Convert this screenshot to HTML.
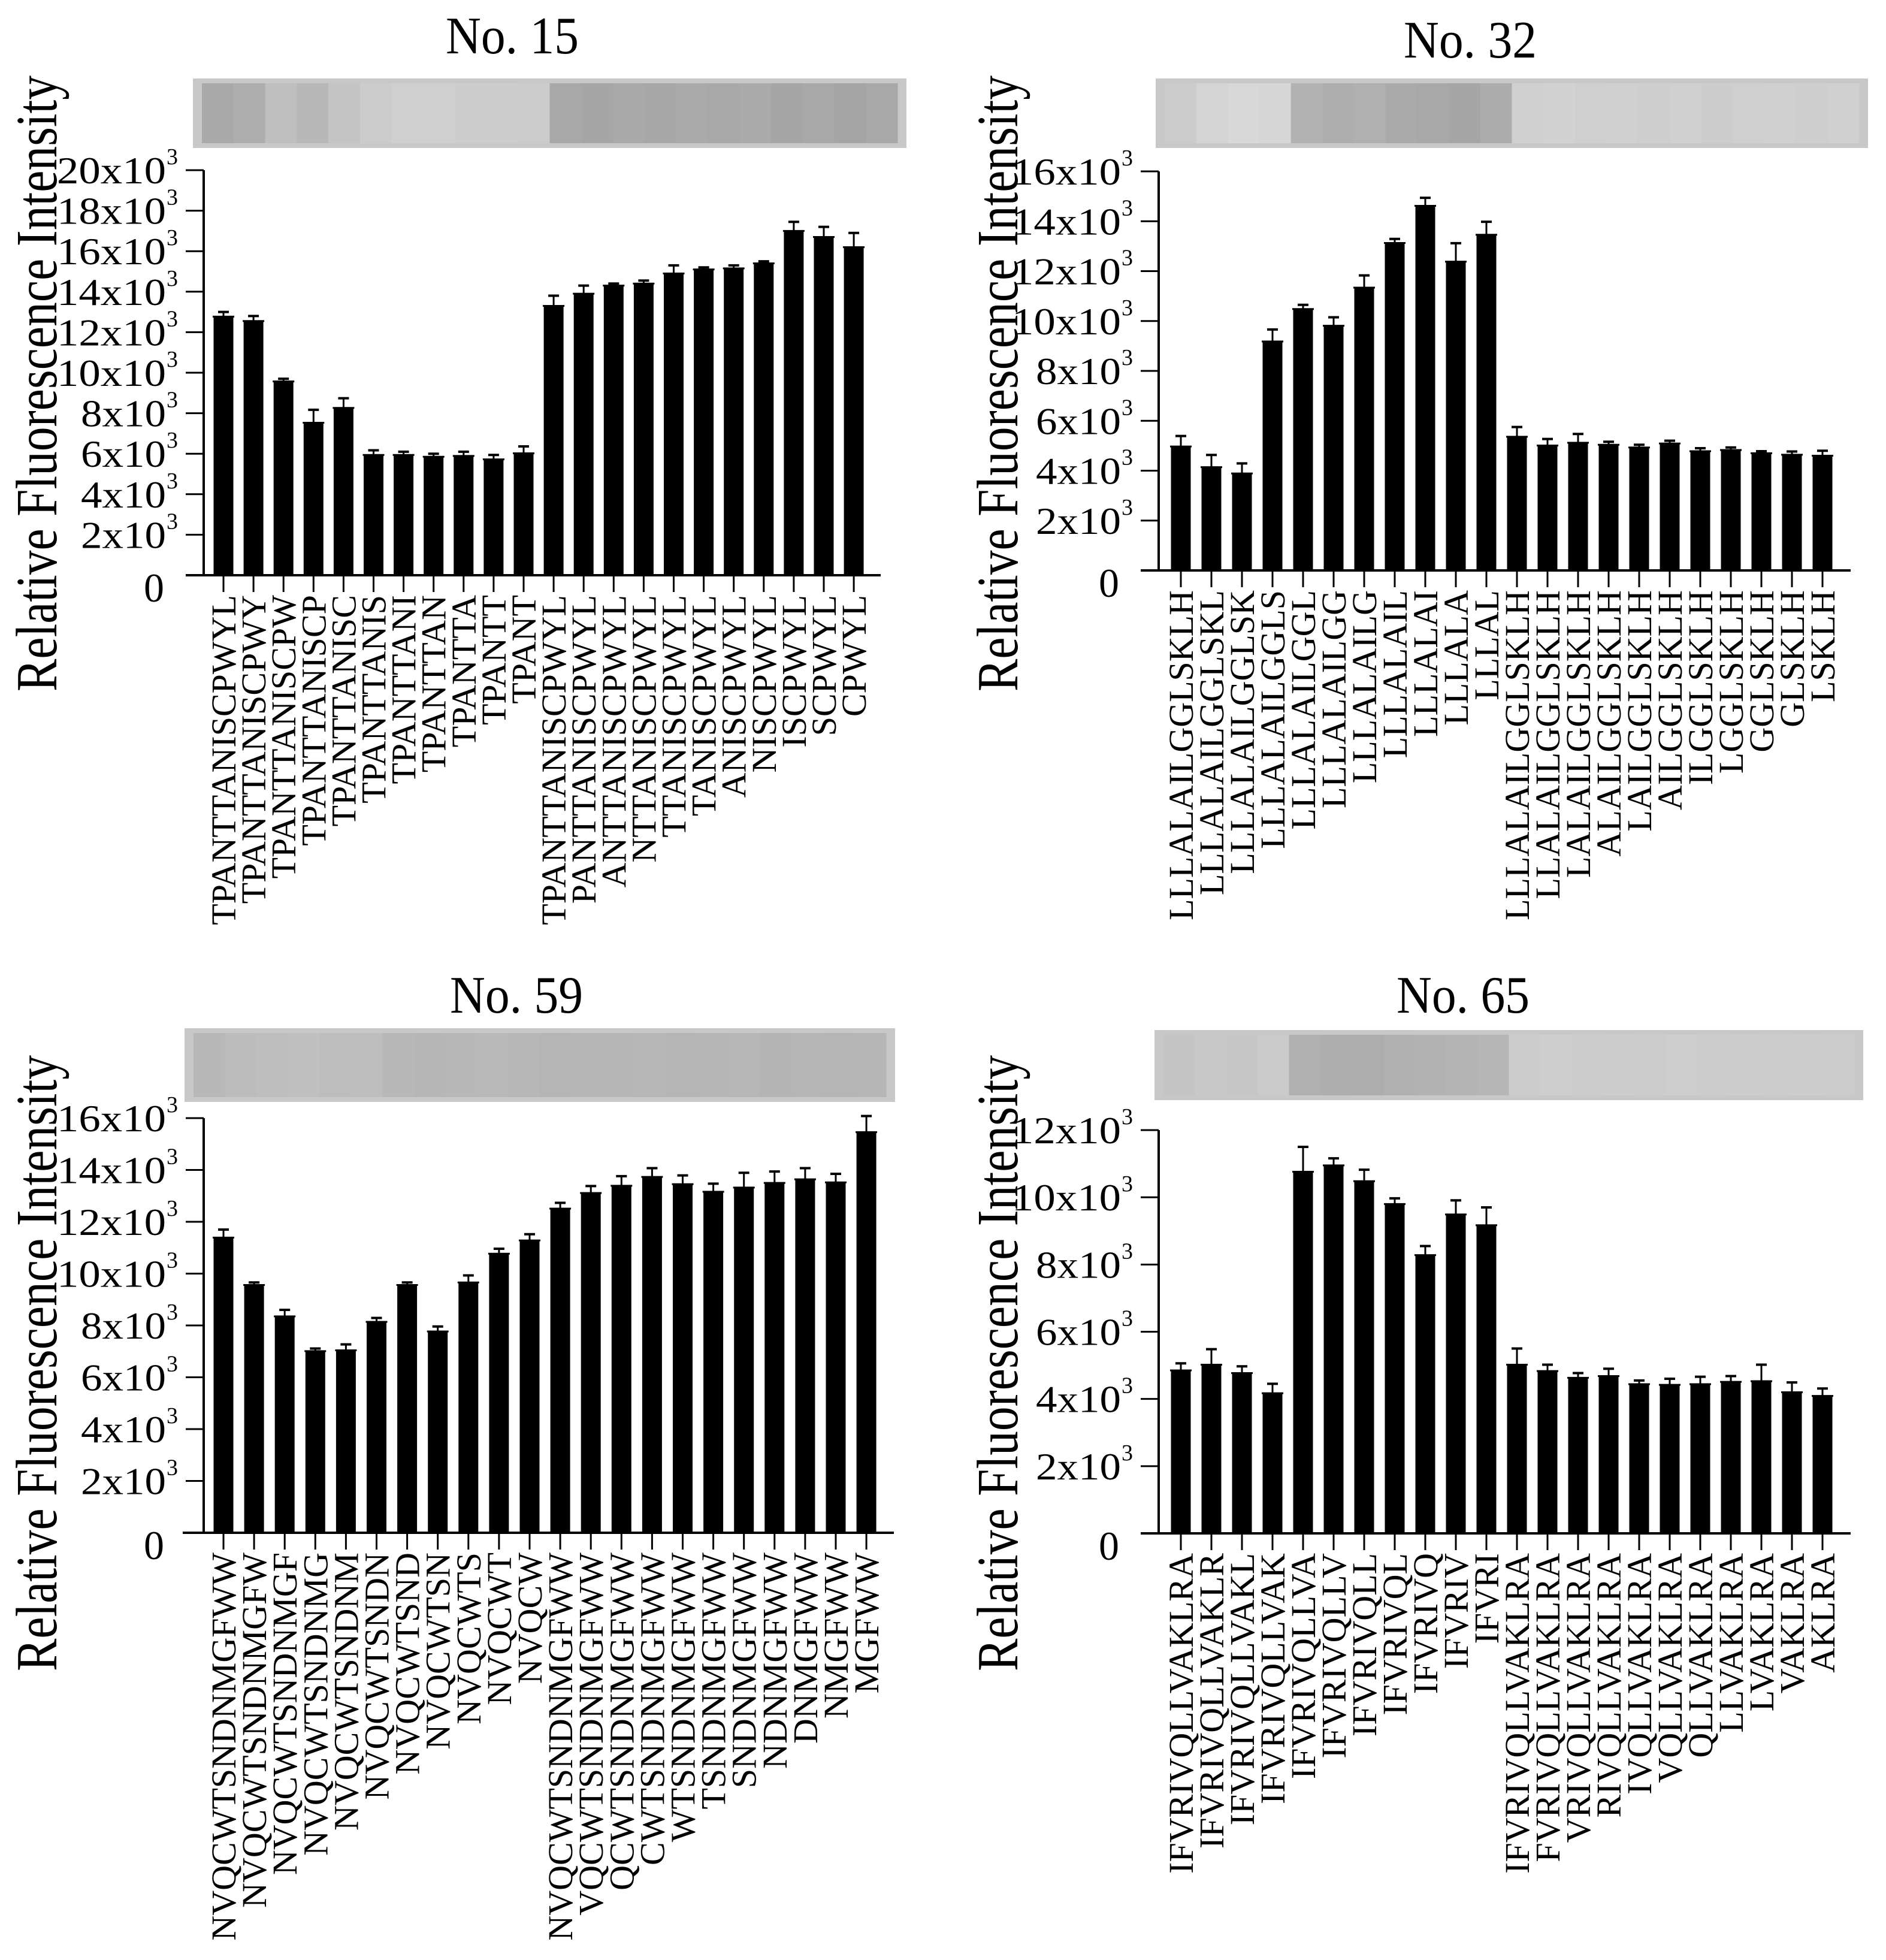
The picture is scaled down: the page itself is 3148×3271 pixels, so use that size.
<!DOCTYPE html>
<html><head><meta charset="utf-8"><style>
html,body{margin:0;padding:0;background:#fff;}
svg{display:block;}
text{font-family:"Liberation Serif",serif;fill:#000;}
</style></head><body>
<svg id="fig" width="3148" height="3271" viewBox="0 0 3148 3271" xmlns="http://www.w3.org/2000/svg"></svg>
<script>
// ---- data ----
const labels15 = ["TPANTTANISCPWYL","TPANTTANISCPWY","TPANTTANISCPW","TPANTTANISCP","TPANTTANISC","TPANTTANIS","TPANTTANI","TPANTTAN","TPANTTA","TPANTT","TPANT","TPANTTANISCPWYL","PANTTANISCPWYL","ANTTANISCPWYL","NTTANISCPWYL","TTANISCPWYL","TANISCPWYL","ANISCPWYL","NISCPWYL","ISCPWYL","SCPWYL","CPWYL"];
const values15 = [12.77,12.55,9.57,7.53,8.26,5.94,5.94,5.85,5.89,5.72,6.02,13.3,13.9,14.3,14.4,14.9,15.1,15.15,15.4,17.0,16.7,16.2];
const errors15 = [0.23,0.25,0.13,0.64,0.48,0.23,0.16,0.15,0.21,0.22,0.34,0.5,0.4,0.1,0.15,0.4,0.1,0.15,0.1,0.45,0.5,0.7];
const ticks15 = [0,2,4,6,8,10,12,14,16,18,20];

const labels32 = ["LLLALAILGGLSKLH","LLLALAILGGLSKL","LLLALAILGGLSK","LLLALAILGGLS","LLLALAILGGL","LLLALAILGG","LLLALAILG","LLLALAIL","LLLALAI","LLLALA","LLLAL","LLLALAILGGLSKLH","LLALAILGGLSKLH","LALAILGGLSKLH","ALAILGGLSKLH","LAILGGLSKLH","AILGGLSKLH","ILGGLSKLH","LGGLSKLH","GGLSKLH","GLSKLH","LSKLH"];
const values32 = [4.97,4.14,3.89,9.18,10.48,9.81,11.34,13.13,14.62,12.38,13.46,5.36,5.01,5.12,5.04,4.93,5.09,4.78,4.83,4.70,4.64,4.60];
const errors32 = [0.42,0.49,0.40,0.48,0.17,0.34,0.49,0.16,0.32,0.74,0.52,0.39,0.26,0.35,0.12,0.11,0.11,0.12,0.10,0.08,0.13,0.20];
const ticks32 = [0,2,4,6,8,10,12,14,16];

const labels59 = ["NVQCWTSNDNMGFWW","NVQCWTSNDNMGFW","NVQCWTSNDNMGF","NVQCWTSNDNMG","NVQCWTSNDNM","NVQCWTSNDN","NVQCWTSND","NVQCWTSN","NVQCWTS","NVQCWT","NVQCW","NVQCWTSNDNMGFWW","VQCWTSNDNMGFWW","QCWTSNDNMGFWW","CWTSNDNMGFWW","WTSNDNMGFWW","TSNDNMGFWW","SNDNMGFWW","NDNMGFWW","DNMGFWW","NMGFWW","MGFWW"];
const values59 = [11.39,9.56,8.35,7.01,7.04,8.14,9.56,7.77,9.66,10.77,11.28,12.51,13.11,13.39,13.73,13.45,13.16,13.32,13.5,13.64,13.52,15.46];
const errors59 = [0.31,0.10,0.25,0.10,0.23,0.15,0.10,0.19,0.27,0.19,0.24,0.22,0.27,0.37,0.34,0.34,0.31,0.57,0.44,0.43,0.33,0.62];
const ticks59 = [0,2,4,6,8,10,12,14,16];

const labels65 = ["IFVRIVQLLVAKLRA","IFVRIVQLLVAKLR","IFVRIVQLLVAKL","IFVRIVQLLVAK","IFVRIVQLLVA","IFVRIVQLLV","IFVRIVQLL","IFVRIVQL","IFVRIVQ","IFVRIV","IFVRI","IFVRIVQLLVAKLRA","FVRIVQLLVAKLRA","VRIVQLLVAKLRA","RIVQLLVAKLRA","IVQLLVAKLRA","VQLLVAKLRA","QLLVAKLRA","LLVAKLRA","LVAKLRA","VAKLRA","AKLRA"];
const values65 = [4.85,5.02,4.77,4.17,10.76,10.95,10.48,9.8,8.28,9.49,9.17,5.02,4.83,4.63,4.68,4.44,4.42,4.44,4.51,4.53,4.2,4.09];
const errors65 = [0.21,0.46,0.2,0.28,0.74,0.21,0.34,0.17,0.27,0.42,0.53,0.48,0.19,0.14,0.22,0.11,0.18,0.22,0.17,0.49,0.29,0.22];
const ticks65 = [0,2,4,6,8,10,12];

const NS = "http://www.w3.org/2000/svg";
const svg = document.getElementById('fig');
function mk(tag, attrs, parent){
  const e = document.createElementNS(NS, tag);
  for (const k in attrs) e.setAttribute(k, attrs[k]);
  (parent||svg).appendChild(e);
  return e;
}

const panels = [
  {id:"15", labels:labels15, values:values15, errors:errors15, ticks:ticks15,
   axisX:340, y0:960, yTop:284, max:20, x1:373, dx:50.1, xa0:310, xa1:1470,
   titleX:855, titleY:89, strip:[322,131,1191,116], stripLanes:[0xa9,0xae,0xbf,0xb8,0xc4,0xcc,0xcf,0xcf,0xcd,0xcd,0xcc,0xa8,0xa6,0xa9,0xa7,0xaa,0xa8,0xaa,0xa6,0xa8,0xa5,0xa8],
   ylabX:60, ylabY:640, gray0:false},
  {id:"32", labels:labels32, values:values32, errors:errors32, ticks:ticks32,
   axisX:1934, y0:952, yTop:286, max:16, x1:1971, dx:51, xa0:1904, xa1:3089,
   titleX:2454, titleY:96, strip:[1929,131,1189,116], stripLanes:[0xcc,0xd4,0xd8,0xd6,0xb2,0xae,0xb0,0xaa,0xa8,0xa6,0xac,0xd0,0xd2,0xcf,0xd0,0xce,0xd0,0xcd,0xcf,0xd0,0xce,0xd0],
   ylabX:1664, ylabY:640, gray0:false},
  {id:"59", labels:labels59, values:values59, errors:errors59, ticks:ticks59,
   axisX:340, y0:2558, yTop:1866, max:16, x1:373, dx:51.1, xa0:305, xa1:1492,
   titleX:862, titleY:1690, strip:[308,1716,1186,123], stripLanes:[0xb8,0xbc,0xbe,0xc0,0xbd,0xbe,0xb8,0xb6,0xb8,0xb9,0xb7,0xb5,0xb6,0xb6,0xb7,0xb5,0xb6,0xb7,0xb4,0xb6,0xb5,0xb6],
   ylabX:60, ylabY:2275, gray0:true},
  {id:"65", labels:labels65, values:values65, errors:errors65, ticks:ticks65,
   axisX:1934, y0:2559, yTop:1886, max:12, x1:1971, dx:51, xa0:1904, xa1:3089,
   titleX:2442, titleY:1690, strip:[1927,1719,1183,117], stripLanes:[0xc4,0xc8,0xc6,0xca,0xb0,0xae,0xad,0xb0,0xb2,0xb4,0xb6,0xcc,0xce,0xcc,0xcd,0xcc,0xce,0xcc,0xcd,0xcc,0xcd,0xcc],
   ylabX:1664, ylabY:2275, gray0:true}
];

panels.forEach(p => {
  const g = mk('g', {});
  
  
  const yS = v => p.y0 - (v / p.max) * (p.y0 - p.yTop);
  const xS = i => p.x1 + i * p.dx;

  const t = mk('text', {x:p.titleX, y:p.titleY, 'text-anchor':'middle', 'font-size':88, textLength:222, lengthAdjust:'spacingAndGlyphs'}, g);
  t.textContent = 'No. ' + p.id;
  
  

  const sg = mk('g', {}, g);
  
  
  const [sx, sy, sw, sh] = p.strip;
  mk('rect', {x:sx, y:sy, width:sw, height:sh, fill:'#c8c8c8'}, sg);
  const n = p.stripLanes.length;
  const lw = (sw - 30) / n;
  p.stripLanes.forEach((c, i) => {
    const col = 'rgb(' + c + ',' + c + ',' + c + ')';
    mk('rect', {x:sx + 15 + i * lw, y:sy + 8, width:lw + 0.5, height:sh - 16, fill:col}, sg);
  });

  const yl = mk('text', {x:0, y:0, 'text-anchor':'middle', 'font-size':74, textLength:1028, lengthAdjust:'spacingAndGlyphs',
    transform:'translate(' + (p.ylabX + 34) + ',' + p.ylabY + ') rotate(-90) scale(1,1.32)'}, g);
  yl.textContent = 'Relative Fluorescence Intensity';
  
  

  const ya = mk('line', {x1:p.axisX, y1:yS(p.max), x2:p.axisX, y2:p.y0, stroke:'#000', 'stroke-width':4}, g);
  
  
  p.ticks.forEach(v => {
    const y = yS(v);
    mk('line', {x1:p.axisX - 30, y1:y, x2:p.axisX, y2:y, stroke:'#000', 'stroke-width':3}, g);
    const rx = p.axisX - 63;
    if (v === 0) {
      const z = mk('text', {x:rx - 20, y:y + 44, 'text-anchor':'middle', 'font-size':68, fill:p.gray0 ? '#777' : '#000'}, g);
      z.textContent = '0';
      
      
    } else {
      const s = v + 'x10';
      const w = s.length === 5 ? 182 : 142;
      const tl = mk('text', {x:rx - w, y:y + 22, 'font-size':64, textLength:w, lengthAdjust:'spacingAndGlyphs'}, g);
      tl.textContent = s;
      
      
      const sup = mk('text', {x:rx + 1, y:y - 10, 'font-size':38}, g);
      sup.textContent = '3';
      
      
    }
  });

  const xa = mk('line', {x1:p.xa0, y1:p.y0, x2:p.xa1, y2:p.y0, stroke:'#000', 'stroke-width':4}, g);
  
  

  p.values.forEach((v, i) => {
    const cx = xS(i);
    const top = yS(v);
    const et = yS(v + p.errors[i]);
    const eb = mk('line', {x1:cx, y1:et, x2:cx, y2:top, stroke:'#000', 'stroke-width':3}, g);
    
    
    mk('line', {x1:cx - 9, y1:et, x2:cx + 9, y2:et, stroke:'#000', 'stroke-width':4}, g);
    const b = mk('rect', {x:cx - 16.5, y:top, width:33, height:p.y0 - top, fill:'#000'}, g);
    
    
    mk('line', {x1:cx - 18, y1:top, x2:cx + 18, y2:top, stroke:'#000', 'stroke-width':3}, g);
    mk('line', {x1:cx, y1:p.y0, x2:cx, y2:p.y0 + 28, stroke:'#000', 'stroke-width':3}, g);
    const lb = mk('text', {x:0, y:0, 'text-anchor':'end', 'font-size':58,
      transform:'translate(' + (cx + 20) + ',' + (p.y0 + 33) + ') rotate(-90)'}, g);
    lb.textContent = p.labels[i];
    
    
  });
});
</script>
</body></html>
